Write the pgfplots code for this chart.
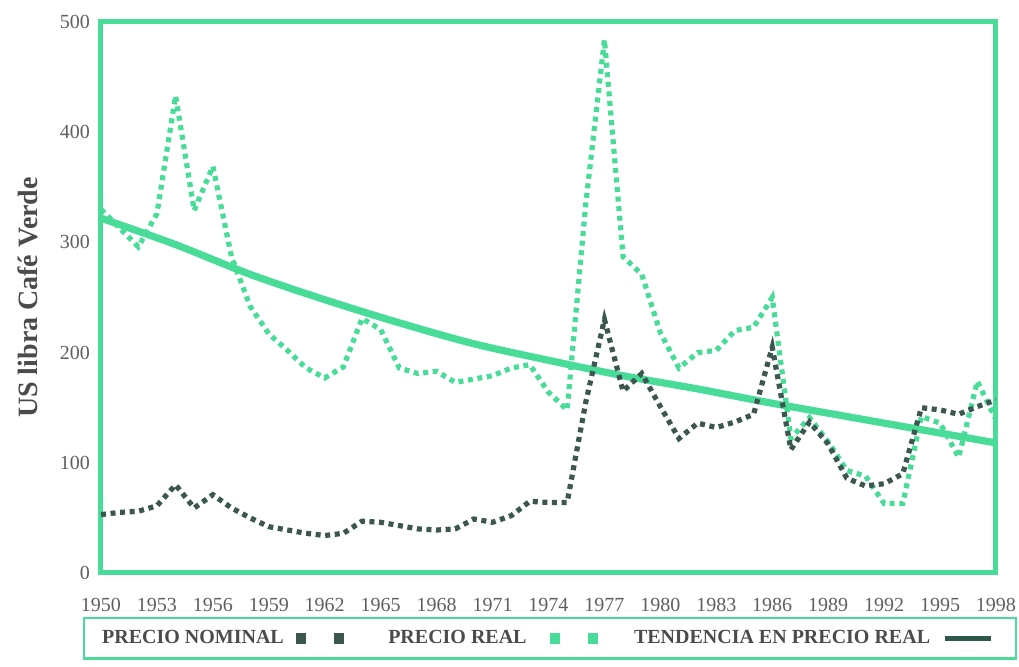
\documentclass[border=0pt]{standalone}
\usepackage{pgfplots}
\pgfplotsset{compat=1.18}
\usepackage{fontspec}
\setmainfont{Liberation Serif}
\definecolor{lgreen}{RGB}{72,220,152}
\definecolor{dgreen}{RGB}{60,86,80}
\definecolor{tgreen}{RGB}{45,88,76}
\definecolor{tickgray}{RGB}{95,95,95}
\definecolor{labgray}{RGB}{75,75,75}

\pgfplotstableread{
year nominal real
1950 53 330
1951 55 313
1952 56 296
1953 61 326
1954 80 433
1955 59 329
1956 71 369
1957 59 287
1958 50 242
1959 42 217
1960 39 202
1961 36 186
1962 34 177
1963 36 187
1964 47 231
1965 46 221
1966 43 186
1967 40 181
1968 39 183
1969 40 173
1970 49 176
1971 46 179
1972 52 186
1973 65 189
1974 64 164
1975 64 148
1976 155 335
1977 230 484
1978 165 287
1979 181 271
1980 151 218
1981 122 186
1982 136 200
1983 132 202
1984 137 220
1985 144 223
1986 205 250
1987 112 122
1988 137 141
1989 117 119
1990 86 93
1991 79 88
1992 81 63
1993 90 63
1994 150 142
1995 148 136
1996 144 105
1997 151 174
1998 157 139
}\pricedata

\pgfplotstableread{
year trend
1950 322
1954 298
1958 271
1962 248
1966 227
1970 208
1974 193
1978 179
1982 167
1986 154
1990 142
1994 130
1998 118
}\trenddata

\begin{document}
\begin{tikzpicture}
\useasboundingbox (-50.5pt,-47pt) rectangle (459pt,286.5pt);
\begin{axis}[
  at={(0,0)}, anchor=south west,
  scale only axis, width=447.5pt, height=275.5pt,
  xmin=1950, xmax=1998, ymin=0, ymax=500,
  xtick={1950,1953,...,1998},
  ytick={0,100,...,500},
  major tick length=0pt,
  axis line style={lgreen, line width=2.5pt},
  tick label style={font=\fontsize{10}{12}\selectfont, text=tickgray, /pgf/number format/assume math mode=true},
  x tick label style={/pgf/number format/1000 sep={}, yshift=-9pt},
  y tick label style={xshift=-2pt},
  every axis y label/.style={at={([xshift=-36.5pt]axis description cs:0,0.5)}, rotate=90, anchor=center},
  ylabel={US libra Café Verde},
  ylabel style={font=\bfseries\fontsize{14}{16}\selectfont, text=labgray},
  legend columns=3, legend plot pos=right,
  legend style={at={(axis description cs:0,0)}, anchor=north west, xshift=-9pt, yshift=-22pt,
    draw=lgreen, line width=1.2pt, inner xsep=7pt, inner ysep=4pt,
    font=\bfseries\fontsize{10}{12}\selectfont,
    /tikz/every odd column/.append style={column sep=4pt},
    /tikz/every even column/.append style={column sep=16pt}},
]
\addlegendimage{legend image code/.code={\fill[dgreen] (0pt,-2pt) rectangle (4pt,2pt); \fill[dgreen] (19pt,-2pt) rectangle (23pt,2pt); \path (27pt,0pt);}}
\addlegendentry{\textcolor{labgray}{PRECIO NOMINAL}}
\addlegendimage{legend image code/.code={\path (0pt,0pt); \fill[lgreen] (5.5pt,-2pt) rectangle (9.5pt,2pt); \fill[lgreen] (24.5pt,-2pt) rectangle (28.5pt,2pt);}}
\addlegendentry{\textcolor{labgray}{PRECIO REAL}}
\addlegendimage{legend image code/.code={\draw[tgreen, line width=2.5pt] (0pt,0pt) -- (23pt,0pt); \path (28pt,0pt);}}
\addlegendentry{\textcolor{labgray}{TENDENCIA EN PRECIO REAL}}

\addplot[forget plot, lgreen, line width=3.6pt, smooth] table[x=year, y=trend] {\trenddata};
\addplot[forget plot, lgreen, line width=2.6pt, dash pattern=on 2.5pt off 2.3pt] table[x=year, y=real] {\pricedata};
\addplot[forget plot, dgreen, line width=2.6pt, dash pattern=on 2.5pt off 2.3pt] table[x=year, y=nominal] {\pricedata};
\end{axis}
\end{tikzpicture}
\end{document}
